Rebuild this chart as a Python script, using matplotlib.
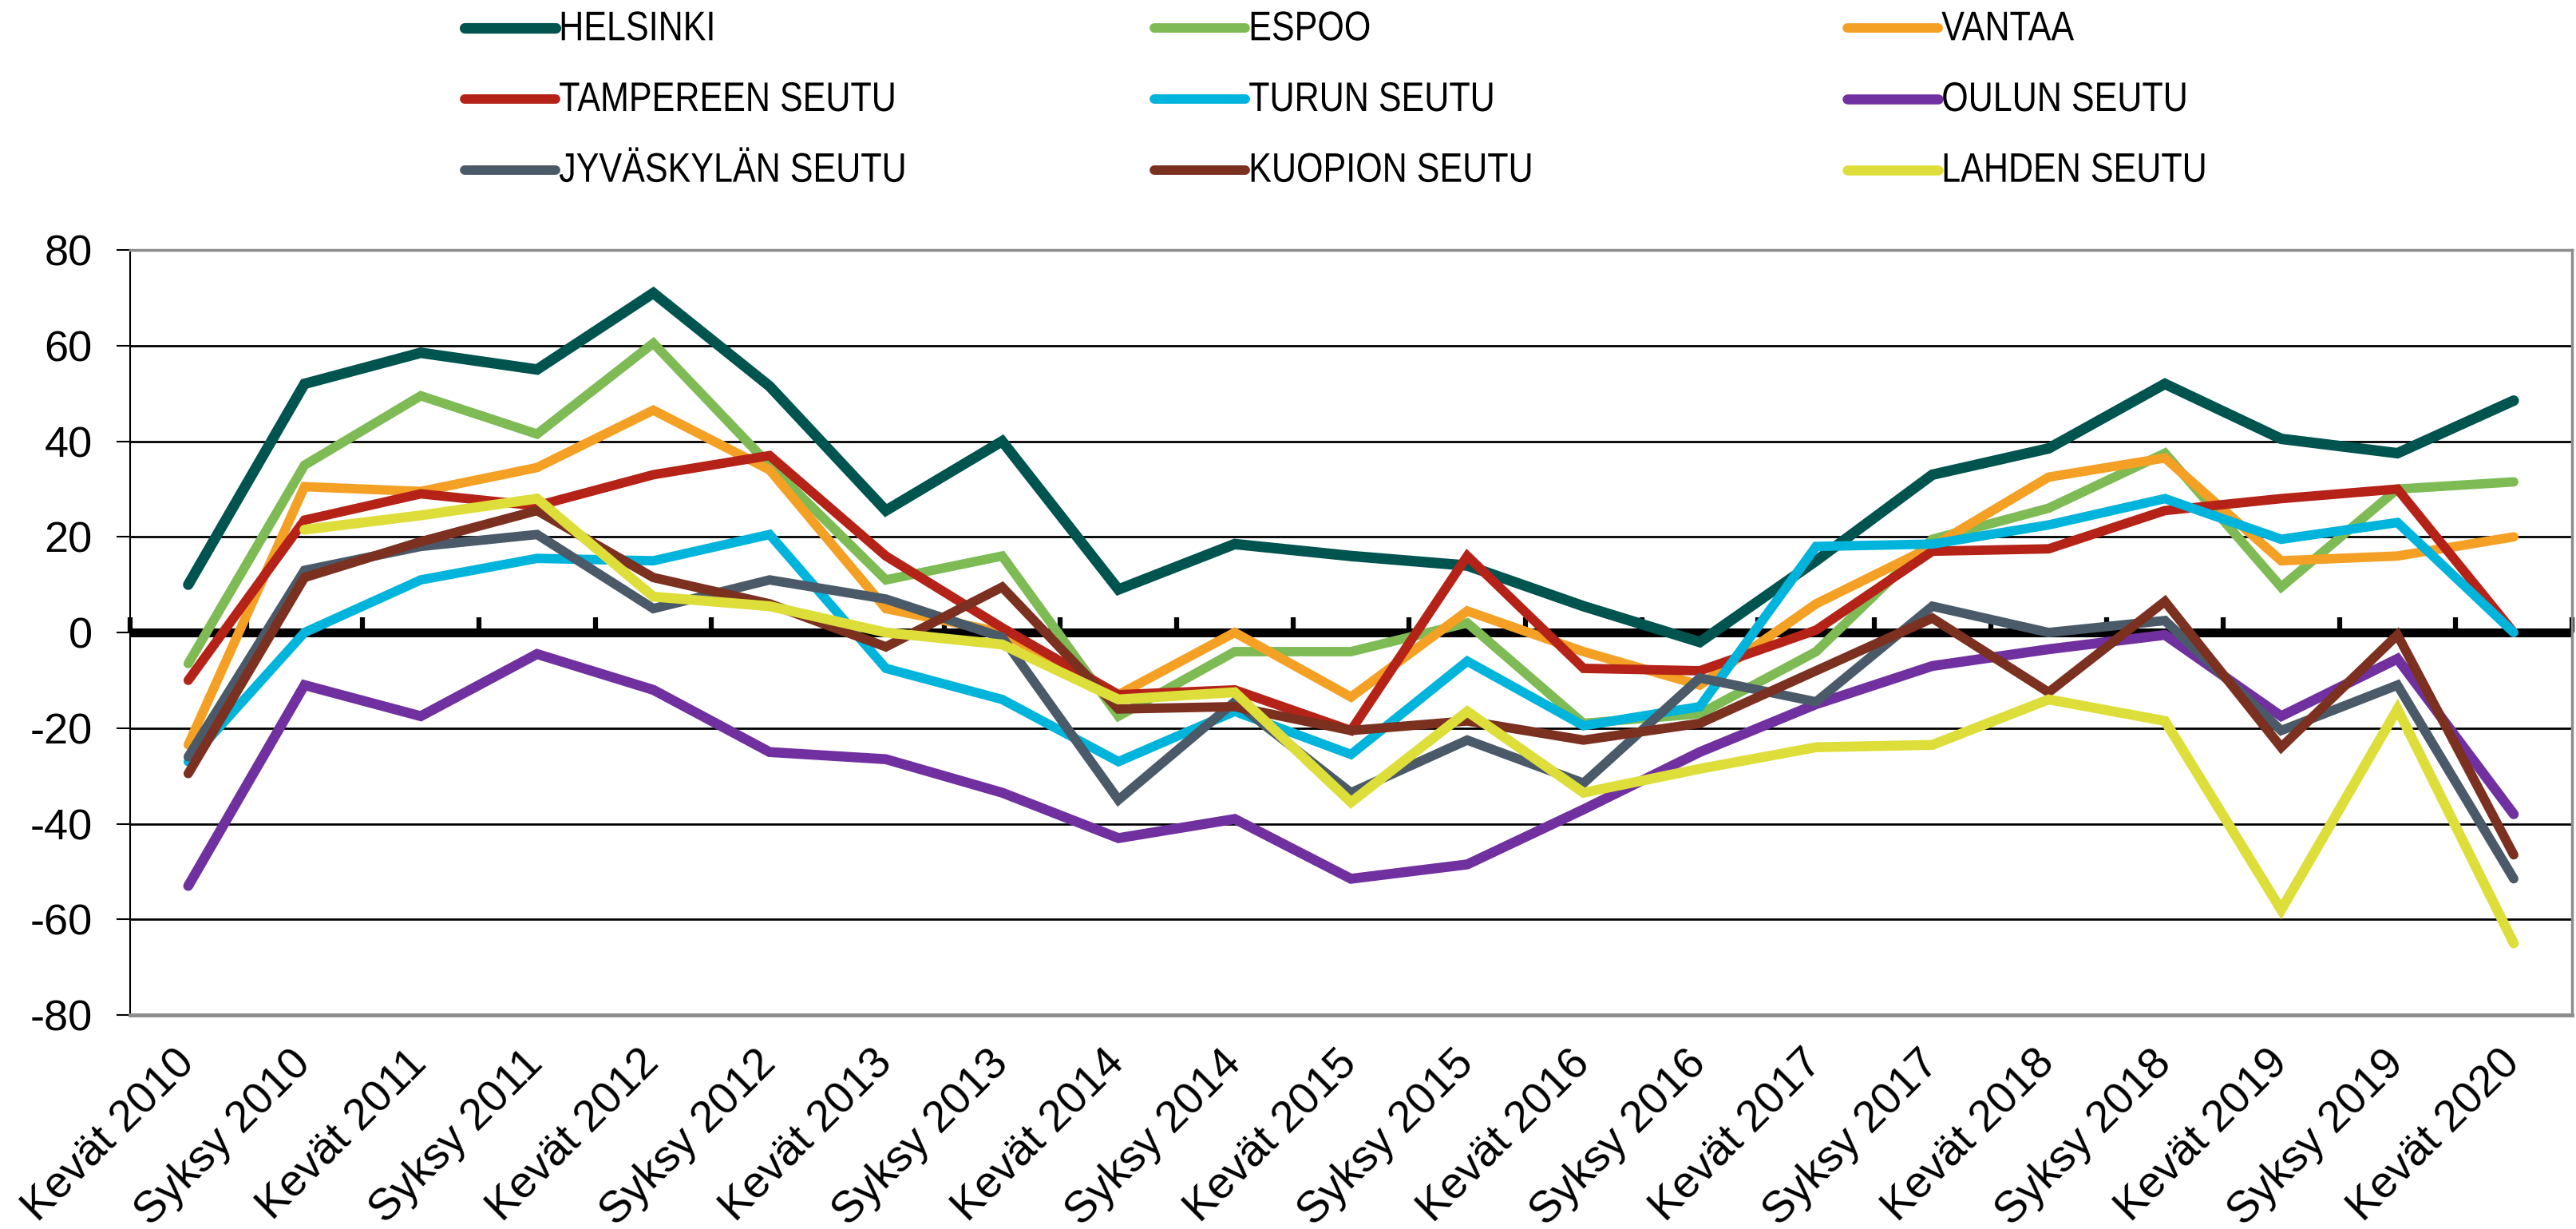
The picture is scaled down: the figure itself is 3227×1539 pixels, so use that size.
import numpy as np
import matplotlib
matplotlib.use("Agg")
import matplotlib.pyplot as plt
from matplotlib.lines import Line2D
from matplotlib import font_manager as fm
from matplotlib.patheffects import AbstractPathEffect
from matplotlib.transforms import Affine2D

# ---------------- data ----------------
categories = ['Kevät 2010', 'Syksy 2010', 'Kevät 2011', 'Syksy 2011', 'Kevät 2012',
              'Syksy 2012', 'Kevät 2013', 'Syksy 2013', 'Kevät 2014', 'Syksy 2014',
              'Kevät 2015', 'Syksy 2015', 'Kevät 2016', 'Syksy 2016', 'Kevät 2017',
              'Syksy 2017', 'Kevät 2018', 'Syksy 2018', 'Kevät 2019', 'Syksy 2019',
              'Kevät 2020']

helsinki = [10, 52, 58.5, 55, 71, 51.5, 25.5, 40, 9, 18.5, 16, 14, 5.5, -2, 15,
            33, 38.5, 52, 40.5, 37.5, 48.5]
espoo = [-6.5, 35, 49.5, 41.5, 60.5, 35, 11, 16, -17.5, -4, -4, 2, -19, -17, -4,
         19.5, 26, 37.5, 9.5, 30, 31.5]
vantaa = [-23.5, 30.5, 29.5, 34.5, 46.5, 34, 5, 0, -13, 0, -13.5, 4.5, -4, -11, 6,
          18, 32.5, 36.5, 15, 16, 20]
tampere = [-10, 23.5, 29, 26.5, 33, 37, 16, 1, -13, -12, -20.5, 16, -7.5, -8, 0.5,
           17, 17.5, 25.5, 28, 30, 0]
turku = [-27, 0, 11, 15.5, 15, 20.5, -7.5, -14, -27, -16.5, -25.5, -6, -19.5, -15.5,
         18, 18.5, 22.5, 28, 19.5, 23, 0]
oulu = [-53, -11, -17.5, -4.5, -12, -25, -26.5, -33.5, -43, -39, -51.5, -48.5, -37,
        -25, -15, -7, -3.5, -0.5, -17.5, -5.5, -38]
jyvaskyla = [-26, 13, 18, 20.5, 5, 11, 7, -1, -35, -14.5, -33.5, -22.5, -31.5, -9.5,
             -14.5, 5.5, 0, 2.5, -20.5, -11, -51.5]
kuopio = [-29.5, 11.5, 19, 25.5, 11.5, 6, -3, 9.5, -16, -15.5, -20.5, -18.5, -22.5,
          -19, -8, 3, -12.5, 6.5, -24, -0.5, -46.5]
lahti = [np.nan, 21.5, 24.5, 28, 7.5, 5.5, 0, -2.5, -14, -12.5, -35.5, -16.5, -33.5,
         -28.5, -24, -23.5, -14, -18.5, -58, -16, -65]

series_names = ['HELSINKI', 'ESPOO', 'VANTAA', 'TAMPEREEN SEUTU', 'TURUN SEUTU',
                'OULUN SEUTU', 'JYVÄSKYLÄN SEUTU', 'KUOPION SEUTU', 'LAHDEN SEUTU']
series_values = [helsinki, espoo, vantaa, tampere, turku, oulu, jyvaskyla, kuopio, lahti]
series_colors = ['#005450', '#7ebb55', '#f4a024', '#b52217', '#00b4dc',
                 '#7030a0', '#4a5a68', '#7b3020', '#dede3a']
series_widths = [9.5, 8.5, 8.5, 8.5, 8.5, 9.0, 8.5, 8.5, 9.0]

yticks = [-80, -60, -40, -20, 0, 20, 40, 60, 80]

# ---------------- fonts ----------------
available = {f.name for f in fm.fontManager.ttflist}
base_font = 'Liberation Sans' if 'Liberation Sans' in available else 'DejaVu Sans'
plt.rcParams['font.family'] = [base_font, 'DejaVu Sans']
if 'Liberation Sans Narrow' in available:
    legend_font = 'Liberation Sans Narrow'
    legend_size = 36
    legend_stretch = 1.0
else:
    legend_font = base_font
    legend_size = 31
    legend_stretch = 1.2


class VStretch(AbstractPathEffect):
    """Draw text glyphs stretched vertically about their baseline (condensed look)."""

    def __init__(self, k):
        super().__init__()
        self.k = k

    def draw_path(self, renderer, gc, tpath, affine, rgbFace=None):
        renderer.draw_path(gc, tpath, Affine2D().scale(1, self.k) + affine, rgbFace)


# ---------------- figure ----------------
fig = plt.figure(figsize=(32.27, 15.39), dpi=100)
ax = fig.add_axes([0.0505, 0.1741, 0.9479, 0.6225])

x = np.arange(len(categories))
for name, vals, col, lw in zip(series_names, series_values, series_colors, series_widths):
    ax.plot(x, vals, color=col, lw=lw, solid_capstyle='round',
            solid_joinstyle='miter', zorder=3, label=name)

ax.set_xlim(-0.5, len(categories) - 0.5)
ax.set_ylim(-80, 80)
ax.set_yticks(yticks)
ax.set_yticklabels([str(v) for v in yticks], fontsize=39)
ax.tick_params(axis='y', direction='out', length=12, width=1.5, pad=22, color='black')

ax.set_xticks(x)
ax.set_xticklabels(categories, fontsize=40, rotation=45, ha='right',
                   rotation_mode='anchor', va='center')
ax.tick_params(axis='x', length=0, pad=38)

ax.yaxis.grid(True, color='black', lw=2.0)
ax.set_axisbelow(True)

for side in ['top', 'right', 'bottom']:
    ax.spines[side].set_color('#8c8c8c')
ax.spines['top'].set_linewidth(2.5)
ax.spines['right'].set_linewidth(2.5)
ax.spines['bottom'].set_linewidth(3.5)
ax.spines['left'].set_color('black')
ax.spines['left'].set_linewidth(1.5)

# zero category axis with tick marks between categories
ax.axhline(0, color='black', lw=8, zorder=2)
sec = ax.secondary_xaxis(0.5)
sec.set_xticks(np.arange(-0.5, len(categories), 1.0))
sec.set_xticklabels([])
sec.tick_params(axis='x', direction='out', length=14, width=4.5, color='black')
sec.spines['bottom'].set_visible(False)

# ---------------- legend (three columns) ----------------
handles = [Line2D([0], [0], color=c, lw=w, solid_capstyle='round')
           for c, w in zip(series_colors, series_widths)]
col_x = [582 / 3227, 1446 / 3227, 2314 / 3227]
col_members = [[0, 3, 6], [1, 4, 7], [2, 5, 8]]
for cx, members in zip(col_x, col_members):
    leg = fig.legend([handles[i] for i in members], [series_names[i] for i in members],
                     loc='center left', bbox_to_anchor=(cx, 1 - 128 / 1539),
                     frameon=False, borderpad=0, borderaxespad=0,
                     handlelength=82 / legend_size, handletextpad=0.1,
                     labelspacing=1.13,
                     prop={'family': legend_font, 'size': legend_size})
    if legend_stretch != 1.0:
        for t in leg.get_texts():
            t.set_path_effects([VStretch(legend_stretch)])

fig.savefig('out.png', dpi=100)
